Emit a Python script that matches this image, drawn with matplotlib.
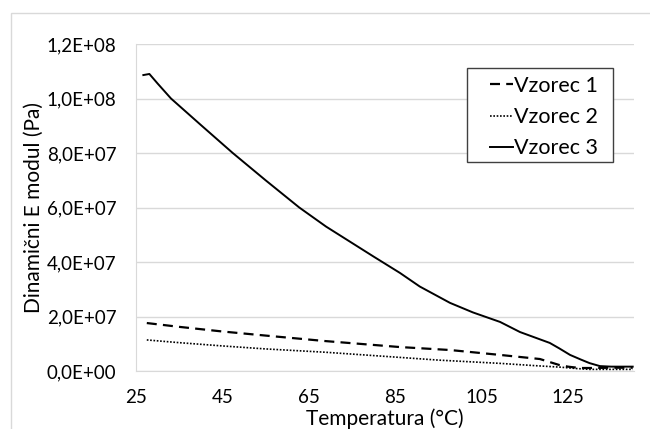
import numpy as np
import matplotlib
matplotlib.use("Agg")
import matplotlib.pyplot as plt
from matplotlib.patches import Rectangle
from matplotlib.ticker import FuncFormatter

plt.rcParams['font.family'] = ['Lato', 'DejaVu Sans']

# temperature (C) / modulus (Pa)
t1 = [27.5, 35, 45, 55, 68.7, 86, 97.7, 109.3, 118.5, 123, 125, 127.7, 130, 135, 140]
e1 = [1.76e7, 1.62e7, 1.45e7, 1.3e7, 1.1e7, 8.8e6, 7.7e6, 5.9e6, 4.4e6, 2.2e6, 1.6e6, 1.1e6, 1.1e6, 1.2e6, 1.2e6]

t2 = [27.5, 35, 45, 55, 68.7, 86, 95, 109.3, 117, 123.3, 127, 130, 135, 140]
e2 = [1.14e7, 1.04e7, 9.2e6, 8.1e6, 6.9e6, 5.0e6, 4.0e6, 2.8e6, 2.0e6, 1.4e6, 0.9e6, 0.6e6, 0.6e6, 0.6e6]

t3 = [26.7, 28.1, 30, 33.1, 40, 47.4, 55, 62.8, 69, 74.5, 80, 86.1, 90.7, 97.7, 103,
      109.3, 113.9, 117, 120.8, 123, 125.5, 128, 130, 132.4, 135, 140]
e3 = [1.086e8, 1.09e8, 1.055e8, 1.0e8, 9.03e7, 8.0e7, 7.0e7, 6.0e7, 5.3e7, 4.75e7, 4.2e7,
      3.6e7, 3.1e7, 2.5e7, 2.15e7, 1.8e7, 1.43e7, 1.25e7, 1.03e7, 8.3e6, 5.9e6, 4.2e6,
      2.9e6, 1.8e6, 1.6e6, 1.6e6]

names = ["Vzorec 1", "Vzorec 2", "Vzorec 3"]
xticks = [25, 45, 65, 85, 105, 125]
yticks = [0, 2e7, 4e7, 6e7, 8e7, 1e8, 1.2e8]

W, H = 650, 429
fig = plt.figure(figsize=(6.5, 4.29), dpi=100)
# outer chart border
fig.patches.append(Rectangle((11/W, -0.1), 1.2, 1 - 13/H + 0.1, transform=fig.transFigure,
                             fill=False, edgecolor='#d9d9d9', linewidth=1))
ax = fig.add_axes([136/W, 58/H, 498/W, 327/H])

ax.plot(t1, e1, color='black', linewidth=1.6, linestyle=(0, (4.5, 2.8)), label=names[0])
ax.plot(t2, e2, color='black', linewidth=1.2, linestyle=(0, (1, 1)), label=names[1])
ax.plot(t3, e3, color='black', linewidth=1.4, linestyle='-', label=names[2])

ax.set_xlim(25, 140.3)
ax.set_ylim(0, 1.2e8)
ax.set_xticks(xticks)
ax.set_yticks(yticks)
ax.yaxis.set_major_formatter(FuncFormatter(
    lambda v, p: ("%.1E" % v).replace('.', ',')))
ax.grid(axis='y', color='#d9d9d9', linewidth=1)
ax.set_axisbelow(True)
for s in ['top', 'right']:
    ax.spines[s].set_visible(False)
for s in ['left', 'bottom']:
    ax.spines[s].set_color('#d9d9d9')
ax.tick_params(length=0, labelsize=13.5, colors='black')
ax.tick_params(axis='y', pad=14)
ax.tick_params(axis='x', pad=13)

ax.set_xlabel("Temperatura (°C)", fontsize=15, labelpad=1.5)
ax.set_ylabel("Dinamični E modul (Pa)", fontsize=15, labelpad=2)

# legend box drawn separately so the padding can match
ax.add_patch(Rectangle((467/W, 1 - 162/H), 146/W, 94/H, transform=fig.transFigure,
                       fill=True, facecolor='white', edgecolor='#404040',
                       linewidth=1, zorder=5, clip_on=False))
leg = ax.legend(loc='upper left', bbox_to_anchor=(490/W, 1 - 76/H), bbox_transform=fig.transFigure,
                fontsize=15.5, frameon=False, handlelength=1.07, handletextpad=0.05,
                borderpad=0, labelspacing=0.52, borderaxespad=0)
leg.set_zorder(6)

fig.savefig("out.png", dpi=100)
